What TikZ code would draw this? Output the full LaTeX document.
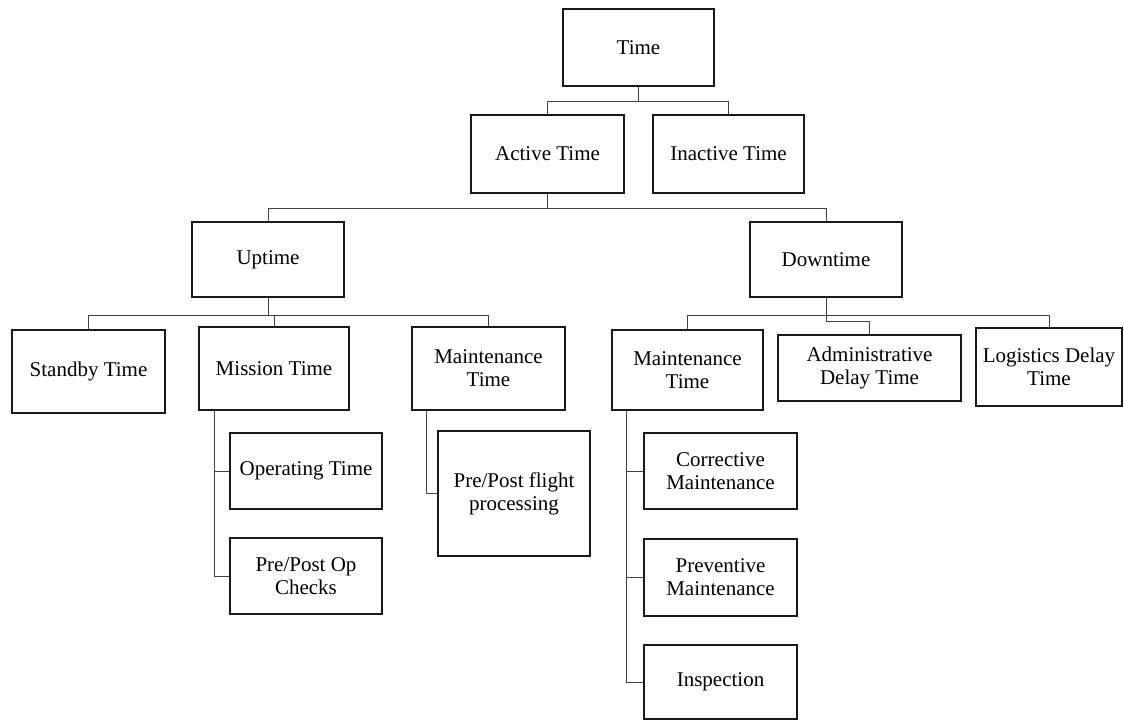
\documentclass[tikz,border=0pt]{standalone}
\usepackage{fontspec}
\setmainfont{Liberation Serif}
\begin{document}
\begin{tikzpicture}[x=1pt,y=-1pt,
  box/.style={draw=black!90,line width=2.6pt,fill=white,inner sep=0pt,align=center,
    font=\fontsize{21}{23}\selectfont},
  conn/.style={draw=black!75,line width=0.9pt}]
\useasboundingbox[fill=white] (0,0) rectangle (1124,721);
% level 1-2
\node[box,minimum width=151,minimum height=77] (time) at (638.5,47.5) {Time};
\node[box,minimum width=153,minimum height=78] (active) at (547.5,154) {Active Time};
\node[box,minimum width=151,minimum height=78] (inactive) at (728.5,154) {Inactive Time};
% level 3
\node[box,minimum width=152,minimum height=75] (uptime) at (268,259.5) {Uptime};
\node[box,minimum width=152,minimum height=75] (downtime) at (826,259.5) {Downtime};
% level 4 (uptime)
\node[box,minimum width=153,minimum height=83] (standby) at (88.5,371.5) {Standby Time};
\node[box,minimum width=150,minimum height=83] (mission) at (274,368.5) {Mission Time};
\node[box,minimum width=153,minimum height=83] (maintup) at (488.5,368.5) {Maintenance\\Time};
% level 4 (downtime)
\node[box,minimum width=151,minimum height=80] (maintdown) at (687.5,370) {Maintenance\\Time};
\node[box,minimum width=183,minimum height=66] (admin) at (869.5,368) {Administrative\\Delay Time};
\node[box,minimum width=146,minimum height=78] (logistics) at (1049,367) {Logistics Delay\\Time};
% level 5
\node[box,minimum width=152,minimum height=76] (operating) at (306,471) {Operating Time};
\node[box,minimum width=152,minimum height=76] (prepostop) at (306,576) {Pre/Post Op\\Checks};
\node[box,minimum width=152,minimum height=125] (flight) at (514,493.5) {Pre/Post flight\\processing};
\node[box,minimum width=153,minimum height=76] (corrective) at (720.5,471) {Corrective\\Maintenance};
\node[box,minimum width=153,minimum height=77] (preventive) at (720.5,577.5) {Preventive\\Maintenance};
\node[box,minimum width=153,minimum height=74] (inspection) at (720.5,682) {Inspection};
% connectors
\draw[conn] (time.south) -- ++(0,14) coordinate (t1);
\draw[conn] (active.north) |- (t1) -| (inactive.north);
\draw[conn] (active.south) -- ++(0,14) coordinate (a1);
\draw[conn] (uptime.north) |- (a1) -| (downtime.north);
\draw[conn] (uptime.south) -- ++(0,17) coordinate (u1);
\draw[conn] (standby.north) |- (u1) -| (maintup.north);
\draw[conn] (mission.north) -- (mission.north |- u1);
\draw[conn] (downtime.south) -- ++(0,17) coordinate (d1);
\draw[conn] (maintdown.north) |- (d1) -| (logistics.north);
\draw[conn] (d1) -- ++(0,6) -| (admin.north);
\draw[conn] ([xshift=17pt]mission.south west) |- (operating.west);
\draw[conn] ([xshift=17pt]mission.south west) |- (prepostop.west);
\draw[conn] ([xshift=16pt]maintup.south west) |- (flight.west);
\draw[conn] ([xshift=16pt]maintdown.south west) |- (corrective.west);
\draw[conn] ([xshift=16pt]maintdown.south west) |- (preventive.west);
\draw[conn] ([xshift=16pt]maintdown.south west) |- (inspection.west);
\end{tikzpicture}
\end{document}
